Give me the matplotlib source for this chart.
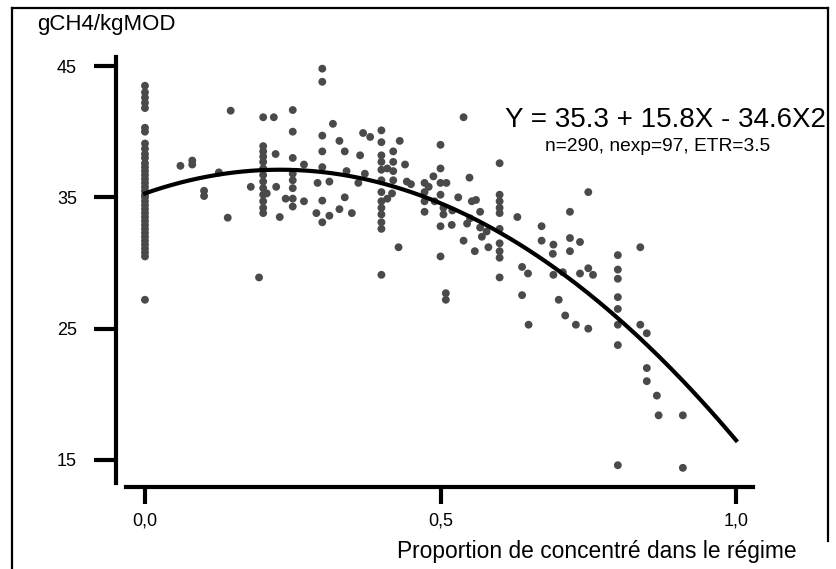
import numpy as np
import matplotlib
matplotlib.use("Agg")
import matplotlib.pyplot as plt
from matplotlib.lines import Line2D

plt.rcParams['font.family'] = ['Liberation Sans Narrow', 'Liberation Sans', 'DejaVu Sans']

# regression shown on the chart
b0, b1, b2 = 35.3, 15.8, -34.6

x0 = [0.0] * 37
y0 = [43.5, 43.0, 42.6, 42.2, 41.8, 40.3, 40.0, 39.1, 38.7, 38.3, 38.0, 37.6,
      37.3, 37.0, 36.7, 36.4, 36.1, 35.8, 35.5, 35.2, 35.0, 34.7, 34.4, 34.1,
      33.8, 33.5, 33.2, 32.9, 32.6, 32.3, 32.0, 31.7, 31.4, 31.1, 30.8, 30.5, 27.2]

x_low = [0.06, 0.08, 0.08, 0.10, 0.10, 0.145, 0.14, 0.125,
         0.2, 0.2, 0.2, 0.2, 0.2, 0.2, 0.2, 0.2, 0.2, 0.2, 0.2, 0.2, 0.2, 0.193,
         0.218, 0.221, 0.206, 0.222, 0.179, 0.228, 0.238,
         0.25, 0.25, 0.25, 0.25, 0.25, 0.25, 0.25, 0.25,
         0.269, 0.269,
         0.30, 0.30, 0.30, 0.30, 0.30, 0.30, 0.30, 0.292, 0.29,
         0.312, 0.312, 0.318, 0.329, 0.329, 0.338, 0.338, 0.341, 0.35,
         0.364, 0.369, 0.381, 0.372, 0.361]
y_low = [37.4, 37.8, 37.5, 35.5, 35.1, 41.6, 33.45, 36.9,
         41.1, 38.9, 38.5, 38.1, 37.7, 37.2, 36.7, 36.2, 35.7, 35.2, 34.7, 34.2, 33.8, 28.9,
         41.1, 38.3, 35.3, 35.8, 35.8, 33.5, 34.9,
         41.65, 40.0, 38.0, 36.8, 36.3, 35.7, 34.9, 34.3,
         37.5, 34.7,
         44.8, 43.8, 39.7, 38.5, 37.3, 34.75, 33.1, 36.1, 33.8,
         33.6, 36.2, 40.6, 39.3, 34.1, 38.5, 35.0, 37.0, 33.8,
         38.2, 39.9, 39.6, 36.8, 36.1]

x_mid = [0.40] * 13 + [0.41, 0.41, 0.42, 0.42, 0.42, 0.42, 0.418,
         0.431, 0.44, 0.443, 0.45, 0.429,
         0.473, 0.473, 0.473, 0.473, 0.488, 0.49, 0.48,
         0.50, 0.50, 0.50, 0.50, 0.50, 0.50,
         0.51, 0.505, 0.505, 0.509, 0.509, 0.519, 0.52, 0.53,
         0.539, 0.549, 0.553, 0.56, 0.55, 0.539, 0.558, 0.567, 0.567,
         0.578, 0.57, 0.581, 0.545]
y_mid = [40.1, 39.2, 38.2, 37.7, 37.1, 36.3, 35.4, 34.7, 34.2, 33.7, 33.1, 32.6, 29.1,
         37.2, 34.9, 38.5, 37.7, 37.0, 36.3, 35.3,
         39.3, 37.5, 36.2, 36.0, 31.2,
         36.1, 35.4, 34.7, 33.9, 36.6, 34.7, 35.8,
         39.0, 37.2, 36.1, 35.2, 32.8, 30.5,
         36.1, 34.2, 33.7, 27.7, 27.2, 32.9, 34.0, 35.0,
         41.1, 36.5, 34.7, 34.8, 33.4, 31.7, 30.9, 33.9, 32.7,
         32.4, 32.0, 31.2, 33.0]

x_high = [0.60] * 10 + [0.63, 0.638, 0.648, 0.638, 0.649,
          0.671, 0.671, 0.691, 0.69, 0.691, 0.70,
          0.719, 0.719, 0.736, 0.719, 0.75,
          0.707, 0.736, 0.75, 0.758, 0.711, 0.729, 0.75] + [0.80] * 8 + [
          0.838, 0.838, 0.849, 0.849, 0.849, 0.866, 0.869, 0.91, 0.91]
y_high = [37.6, 35.2, 34.7, 34.2, 33.8, 32.6, 31.5, 30.9, 30.4, 28.9,
          33.5, 29.7, 29.2, 27.55, 25.3,
          32.8, 31.7, 31.4, 30.7, 29.1, 27.2,
          33.9, 31.9, 31.6, 30.9, 35.4,
          29.3, 29.2, 29.6, 29.1, 26.0, 25.3, 25.0,
          30.6, 29.5, 28.8, 27.4, 26.5, 25.3, 23.75, 14.6,
          31.2, 25.3, 24.65, 22.0, 21.0, 19.9, 18.4, 18.4, 14.4]

xs = np.array(x0 + x_low + x_mid + x_high)
ys = np.array(y0 + y_low + y_mid + y_high)

xticks = [0.0, 0.5, 1.0]
xticklabels = ['0,0', '0,5', '1,0']
yticks = [15, 25, 35, 45]

fig = plt.figure(figsize=(8.37, 5.69), dpi=100)
ax = fig.add_axes([0.1386, 0.1441, 0.7814, 0.768])

ax.scatter(xs, ys, s=32, color='#4a4a4a', edgecolors='none', zorder=2)
xc = np.linspace(0, 1, 200)
ax.plot(xc, b0 + b1 * xc + b2 * xc ** 2, color='black', linewidth=3, zorder=3)

ax.set_xlim(-0.049, 1.0575)
ax.set_ylim(12.94, 46.22)
ax.spines['top'].set_visible(False)
ax.spines['right'].set_visible(False)
for s in ['left', 'bottom']:
    ax.spines[s].set_linewidth(3)
ax.spines['left'].set_bounds(13.22, 45.7)
ax.spines['bottom'].set_bounds(-0.032, 1.029)

ax.set_xticks(xticks)
ax.set_xticklabels(xticklabels)
ax.set_yticks(yticks)
ax.set_yticklabels([str(t) for t in yticks])
ax.tick_params(axis='y', length=16, width=3, pad=12, labelsize=13)
ax.tick_params(axis='x', length=12, width=3, pad=6, labelsize=13)

fig.text(37 / 837, 1 - 30 / 569, 'gCH4/kgMOD', fontsize=16, va='baseline')
fig.text(797 / 837, 1 - 558 / 569, 'Proportion de concentré dans le régime',
         fontsize=16.4, ha='right', va='baseline')
fig.text(826 / 837, 1 - 127 / 569, 'Y = 35.3 + 15.8X - 34.6X2',
         fontsize=20, ha='right', va='baseline')
fig.text(770 / 837, 1 - 151 / 569, 'n=290, nexp=97, ETR=3.5',
         fontsize=13.8, ha='right', va='baseline')

# page frame
fl, ft, fr, fb = 12 / 837, 1 - 8 / 569, 828 / 837, 1 - 541 / 569
fig.add_artist(Line2D([fl, fl], [0, ft], transform=fig.transFigure, color='black', linewidth=1.6))
fig.add_artist(Line2D([fl, fr], [ft, ft], transform=fig.transFigure, color='black', linewidth=1.6))
fig.add_artist(Line2D([fr, fr], [ft, fb], transform=fig.transFigure, color='black', linewidth=1.6))

fig.savefig('out.png', dpi=100)
